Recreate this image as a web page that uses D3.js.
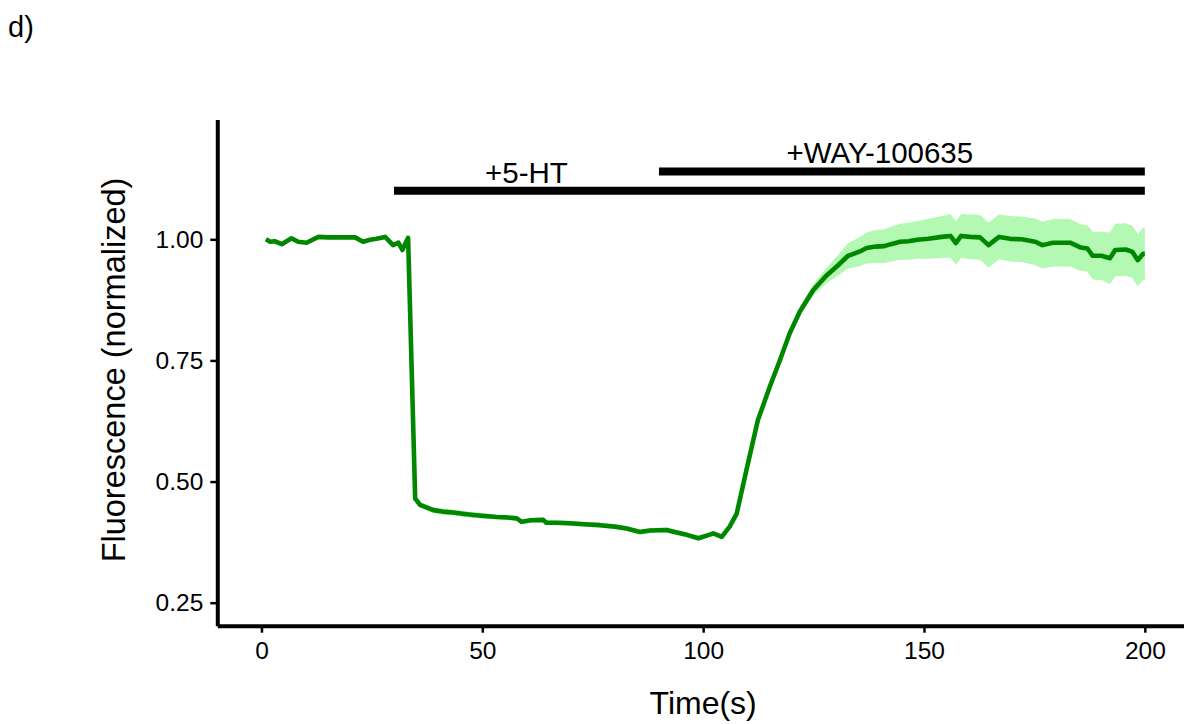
<!DOCTYPE html>
<html><head><meta charset="utf-8">
<script src="https://cdn.jsdelivr.net/npm/d3@7"></script>
<style>
body{margin:0;background:#fff}
svg{display:block}
text{font-family:"Liberation Sans",Arial,Helvetica,sans-serif;fill:#000}
</style>
</head><body>
<svg id="chart" width="1184" height="724"></svg>
<script>
// ---- data ----
const time = [1,2,3,4.6,6.8,8.3,10.2,12.9,15,17.8,21.2,23,24.6,26,28,29.8,31,31.9,33.2,
  34.8,35.9,38.9,41,43.4,46,48,50.5,53.2,55.5,57.8,58.9,61,63.8,64.5,67,69.8,73,76.6,80,82.7,85.7,88,91.7,94,96.3,98.9,101,102.3,104.2,
  106,107.6,109.8,112.4,115.1,117.4,119.6,121.9,124.9,128,130.5,132.8,135.5,137,139.1,141,142.5,144.6,146.5,148.5,151,154,156,157.2,158.4,160.5,162.7,164.6,167,169.5,172.1,175.2,176.8,179.2,181,183.1,185.5,187,188.2,190.2,192.1,193.3,195.7,197.2,198.4,199.6,200];
const meanF = [1.000,0.995,0.996,0.990,1.002,0.995,0.993,1.005,1.004,1.004,1.004,0.995,0.999,1.001,1.005,0.988,0.993,0.978,1.003,
  0.465,0.452,0.441,0.438,0.436,0.433,0.431,0.429,0.427,0.426,0.424,0.417,0.420,0.421,0.415,0.415,0.414,0.412,0.410,0.407,0.403,0.396,0.399,0.400,0.395,0.390,0.383,0.389,0.393,0.386,
  0.407,0.434,0.524,0.627,0.696,0.751,0.806,0.851,0.895,0.926,0.946,0.966,0.975,0.982,0.985,0.986,0.990,0.995,0.996,0.999,1.001,1.005,1.007,0.992,1.007,1.005,1.004,0.988,1.005,1.001,1.000,0.995,0.988,0.993,0.993,0.993,0.983,0.981,0.966,0.966,0.961,0.978,0.979,0.974,0.957,0.970,0.970];
const semF = [0.003,0.003,0.003,0.003,0.003,0.003,0.003,0.003,0.003,0.003,0.003,0.003,0.003,0.003,0.003,0.003,0.003,0.003,0.004,
  0.005,0.006,0.006,0.006,0.006,0.006,0.006,0.006,0.005,0.005,0.005,0.005,0.005,0.005,0.005,0.005,0.005,0.005,0.005,0.005,0.005,0.005,0.005,0.005,0.005,0.005,0.005,0.005,0.005,0.005,
  0.005,0.005,0.005,0.005,0.005,0.006,0.007,0.009,0.012,0.016,0.021,0.026,0.030,0.032,0.034,0.035,0.036,0.037,0.038,0.039,0.041,0.043,0.045,0.045,0.045,0.046,0.046,0.046,0.046,0.047,0.047,0.048,0.048,0.049,0.049,0.049,0.048,0.048,0.049,0.050,0.053,0.054,0.054,0.054,0.054,0.054,0.054];

const xTicks = [0, 50, 100, 150, 200];
const yTicks = [0.25, 0.50, 0.75, 1.00];

const treatLabels = ["+5-HT", "+WAY-100635"];
const treatStart  = [30, 90];
const treatEnd    = [200, 200];
const treatLevel  = [1.10, 1.14];
const labelT      = [60, 140];
const labelLevel  = [1.116, 1.157];

// ---- drawing ----
const svg = d3.select("#chart");
const x = d3.scaleLinear().domain([-10, 210]).range([217.3, 1189]);
const y = d3.scaleLinear().domain([0.2025, 1.2475]).range([625.7, 119.4]);

const data = time.map((t, i) => ({t, m: meanF[i], s: semF[i]}));

// ribbon
svg.append("path")
  .datum(data)
  .attr("fill", "#b3f9b3")
  .attr("d", d3.area().x(d => x(d.t)).y0(d => y(d.m - d.s)).y1(d => y(d.m + d.s)));

// mean line
svg.append("path")
  .datum(data)
  .attr("fill", "none")
  .attr("stroke", "#008700")
  .attr("stroke-width", 4.6)
  .attr("stroke-linejoin", "round")
  .attr("d", d3.line().x(d => x(d.t)).y(d => y(d.m)));

// treatment bars
treatLabels.forEach((lab, i) => {
  svg.append("line")
    .attr("x1", x(treatStart[i])).attr("x2", x(treatEnd[i]))
    .attr("y1", y(treatLevel[i])).attr("y2", y(treatLevel[i]))
    .attr("stroke", "#000").attr("stroke-width", 8);
  svg.append("text")
    .attr("x", x(labelT[i])).attr("y", y(labelLevel[i]))
    .attr("text-anchor", "middle")
    .style("font-size", "29.5px")
    .text(lab);
});

// axes
const xAxis = svg.append("g")
  .attr("transform", `translate(0,${y.range()[0]})`)
  .call(d3.axisBottom(x).tickValues(xTicks).tickSize(7).tickSizeOuter(0).tickPadding(9).tickFormat(d3.format("d")));
const yAxis = svg.append("g")
  .attr("transform", `translate(${x.range()[0]},0)`)
  .call(d3.axisLeft(y).tickValues(yTicks).tickSize(7).tickSizeOuter(0).tickPadding(7).tickFormat(d3.format(".2f")));

[xAxis, yAxis].forEach(g => {
  g.select(".domain").attr("stroke", "#000").attr("stroke-width", 4);
  g.selectAll(".tick line").attr("stroke", "#000").attr("stroke-width", 2.5);
  g.selectAll(".tick text").style("font-size", "24.5px").attr("fill", "#000")
    .style("font-family", "'Liberation Sans', Arial, sans-serif");
});

// axis titles
svg.append("text")
  .attr("x", (x.range()[0] + x.range()[1]) / 2)
  .attr("y", 714)
  .attr("text-anchor", "middle")
  .style("font-size", "32px")
  .text("Time(s)");

svg.append("text")
  .attr("transform", "translate(125,370) rotate(-90)")
  .attr("text-anchor", "middle")
  .style("font-size", "32.5px")
  .text("Fluorescence (normalized)");

// panel tag
svg.append("text")
  .attr("x", 8).attr("y", 37)
  .style("font-size", "29px")
  .text("d)");
</script>
</body></html>
